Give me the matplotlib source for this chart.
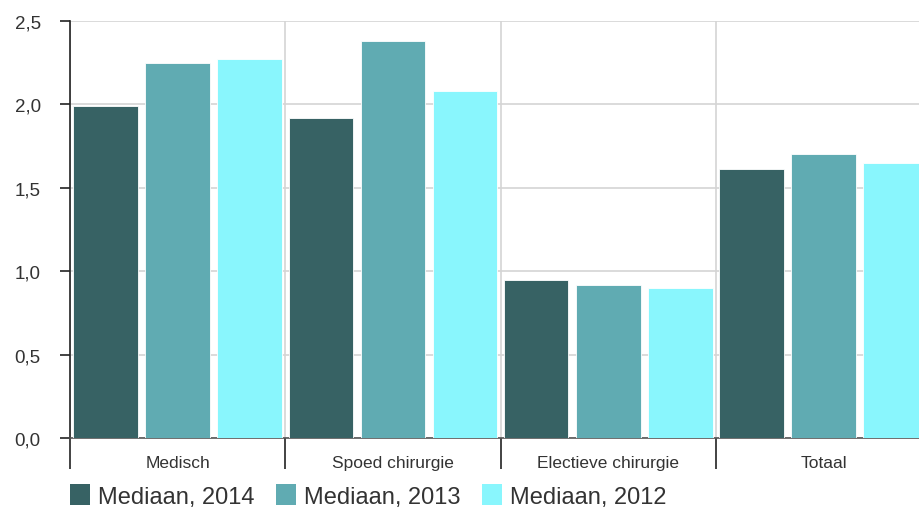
import numpy as np
import matplotlib.pyplot as plt
import matplotlib.ticker as ticker
from matplotlib.patches import Patch

categories = ["Medisch", "Spoed chirurgie", "Electieve chirurgie", "Totaal"]
series = ["Mediaan, 2014", "Mediaan, 2013", "Mediaan, 2012"]
mediaan_2014 = [1.99, 1.92, 0.95, 1.61]
mediaan_2013 = [2.25, 2.38, 0.92, 1.70]
mediaan_2012 = [2.27, 2.08, 0.90, 1.65]
values = [mediaan_2014, mediaan_2013, mediaan_2012]
yticks = [0.0, 0.5, 1.0, 1.5, 2.0, 2.5]

COLORS = ["#376264", "#60abb2", "#89f6fd"]
TEXT = "#333333"

plt.rcParams['font.family'] = ['Liberation Sans', 'DejaVu Sans']

fig = plt.figure(figsize=(9.2, 5.1), dpi=100)
fig.patch.set_facecolor("white")
ax = fig.add_axes([70 / 920, 71 / 510, 1 - 70 / 920, (439 - 22) / 510])

x = np.arange(len(categories))
step = 0.335
for i, (vals, col) in enumerate(zip(values, COLORS)):
    ax.bar(x + (i - 1) * step, vals, width=0.3, color=col,
           edgecolor="white", linewidth=0.6, zorder=3)

ax.set_ylim(0, 2.5)
ax.set_xlim(-0.5, -0.5 + 850 / 215.3)
ax.set_yticks(yticks)
ax.set_yticklabels([f"{v:.1f}".replace(".", ",") for v in yticks])

# group boundaries as major ticks, category names on minor ticks
ax.set_xticks(np.arange(len(categories)) - 0.5)
ax.set_xticklabels([])
ax.xaxis.set_minor_locator(ticker.FixedLocator(x))
ax.xaxis.set_minor_formatter(ticker.FixedFormatter(categories))
ax.tick_params(axis='x', which='major', length=22, width=1.2, color="#222222")
ax.tick_params(axis='x', which='minor', length=0, pad=12, labelsize=12.5, labelcolor=TEXT)
ax.tick_params(axis='y', which='major', length=7, width=1.2, color="#222222",
               labelsize=13.5, labelcolor=TEXT, pad=14)

ax.grid(True, which='major', color="#d4d4d4", linewidth=1.2, zorder=0)
ax.set_axisbelow(True)

for side in ['top', 'right']:
    ax.spines[side].set_visible(False)
ax.spines['left'].set_linewidth(1.2)
ax.spines['left'].set_color("#222222")
ax.spines['bottom'].set_linewidth(1.2)
ax.spines['bottom'].set_color("#555555")

handles = [Patch(facecolor=c, edgecolor="none") for c in COLORS]
fig.legend(handles, series, loc="lower left", bbox_to_anchor=(53 / 920, -0.03),
           ncol=3, frameon=False, fontsize=17, handlelength=0.85, handleheight=0.95,
           handletextpad=0.35, columnspacing=0.9, labelcolor=TEXT,
           borderaxespad=0.3)

plt.savefig("out.png", dpi=100, facecolor="white")
